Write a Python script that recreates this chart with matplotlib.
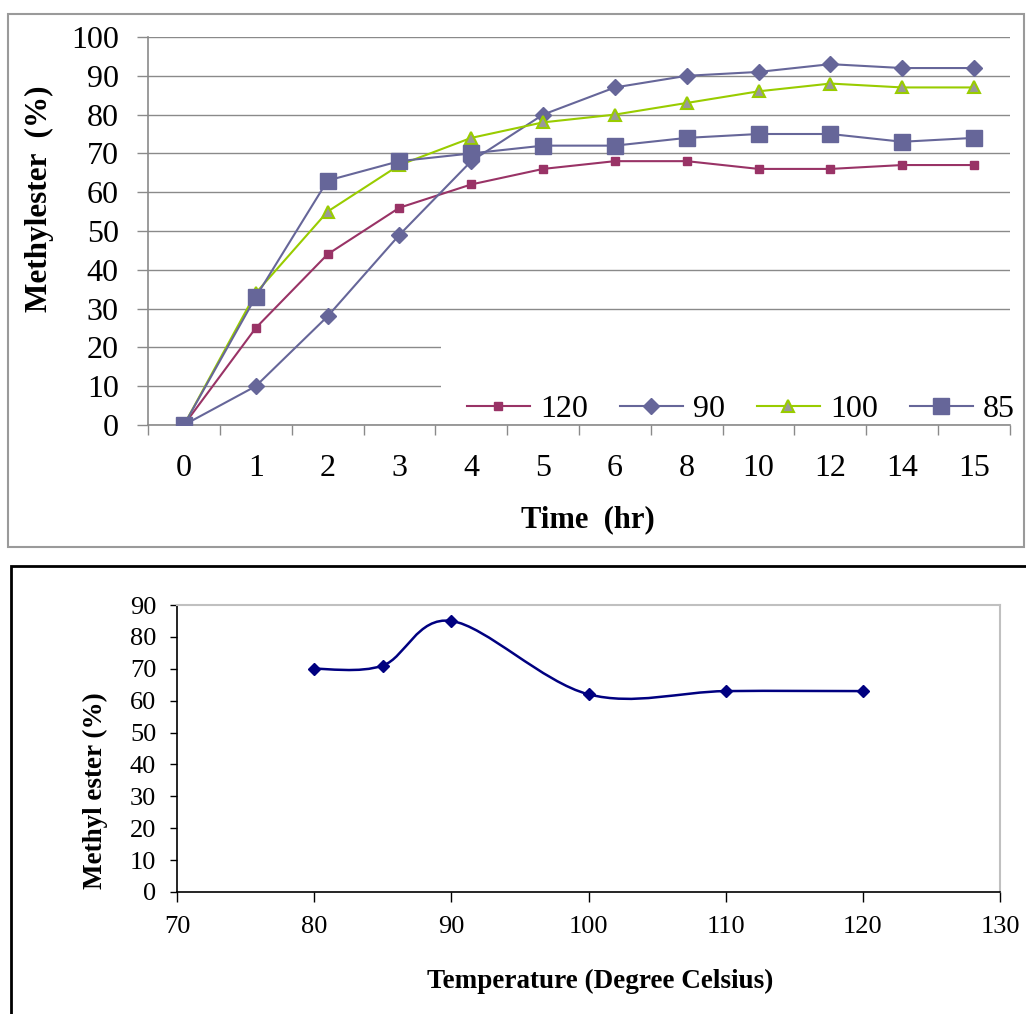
import matplotlib
matplotlib.use("Agg")
import matplotlib.pyplot as plt
from matplotlib.patches import Rectangle, PathPatch
from matplotlib.path import Path

plt.rcParams["font.family"] = ["Liberation Serif", "DejaVu Serif"]

# top chart: methyl ester vs time, one line per temperature
time_labels = ["0", "1", "2", "3", "4", "5", "6", "8", "10", "12", "14", "15"]
ester_120 = [0, 25, 44, 56, 62, 66, 68, 68, 66, 66, 67, 67]
ester_90 = [0, 10, 28, 49, 68, 80, 87, 90, 91, 93, 92, 92]
ester_100 = [0, 34, 55, 67, 74, 78, 80, 83, 86, 88, 87, 87]
ester_85 = [0, 33, 63, 68, 70, 72, 72, 74, 75, 75, 73, 74]

# bottom chart: methyl ester vs temperature
temps = [80, 85, 90, 100, 110, 120]
ester_temp = [70, 71, 85, 62, 63, 63]

W, H = 1026, 1014
fig = plt.figure(figsize=(W / 100, H / 100), dpi=100)


def fx(px):
    return px / W


def fy(py):
    return 1 - py / H


# panel frames
fig.patches.append(Rectangle((fx(8), fy(547)), fx(1024) - fx(8), fy(14) - fy(547),
                             transform=fig.transFigure, fill=False,
                             edgecolor="#9a9a9a", lw=1.5))
fig.patches.append(Rectangle((fx(11), fy(1030)), fx(1040) - fx(11), fy(566) - fy(1030),
                             transform=fig.transFigure, fill=False,
                             edgecolor="black", lw=2))

# ---- top panel ----
grid_c = "#8a8a8a"
ax = fig.add_axes([fx(148), fy(425), fx(1010) - fx(148), fy(37) - fy(425)])
x = list(range(len(time_labels)))
ax.plot(x, ester_120, color="#993366", marker="s", ms=5.5, lw=1.5, label="120", zorder=3)
ax.plot(x, ester_90, color="#666699", marker="D", ms=8.5, lw=1.5, label="90", zorder=3)
ax.plot(x, ester_100, color="#99CC00", marker="^", ms=8.5, mfc="#999999", mec="#99CC00",
        mew=1.5, lw=1.5, label="100", zorder=3)
ax.plot(x, ester_85, color="#666699", marker="s", ms=11, lw=1.5, label="85", zorder=3)

ax.set_xlim(-0.5, len(time_labels) - 0.5)
ax.set_ylim(0, 100)
ax.set_yticks(range(0, 101, 10))
ax.set_xticks(x)
ax.set_xticklabels(time_labels)
ax.set_xticks([i - 0.5 for i in range(len(time_labels) + 1)], minor=True)
ax.tick_params(axis="x", which="major", length=0, pad=21, labelsize=23)
ax.tick_params(axis="x", which="minor", length=7, width=1, color=grid_c, direction="out")
ax.tick_params(axis="y", length=8, width=1, color=grid_c, pad=13, labelsize=23)
ax.grid(axis="y", color=grid_c, lw=1)
ax.set_axisbelow(True)
for s in ["top", "right"]:
    ax.spines[s].set_visible(False)
for s in ["left", "bottom"]:
    ax.spines[s].set_color(grid_c)
    ax.spines[s].set_linewidth(1.2)

# white legend area hides the lower grid lines
ax.add_patch(Rectangle((0.34, 0.004), 0.66, 0.215, transform=ax.transAxes,
                       facecolor="white", edgecolor="none", zorder=1))
ax.legend(ncol=4, loc="center", bbox_to_anchor=(fx(741), fy(409)),
          bbox_transform=fig.transFigure, frameon=False, fontsize=23,
          handlelength=1.97, handletextpad=0.32, columnspacing=1.0,
          borderaxespad=0)

fig.text(fx(39), fy(199), "Methylester  (%)", rotation=90, ha="center", va="center",
         fontsize=22.5, fontweight="bold")
fig.text(fx(588), fy(520), "Time  (hr)", ha="center", va="center",
         fontsize=22, fontweight="bold")

# ---- bottom panel ----
ax2 = fig.add_axes([fx(177), fy(892), fx(1000) - fx(177), fy(605) - fy(892)])

# Excel-style smoothed line through the points as cubic Bezier segments
pts = list(zip(temps, ester_temp))
verts = [pts[0]]
codes = [Path.MOVETO]
for i in range(len(pts) - 1):
    p0 = pts[i - 1] if i > 0 else pts[i]
    p1 = pts[i]
    p2 = pts[i + 1]
    p3 = pts[i + 2] if i + 2 < len(pts) else pts[i + 1]
    c1 = (p1[0] + (p2[0] - p0[0]) / 6, p1[1] + (p2[1] - p0[1]) / 6)
    c2 = (p2[0] - (p3[0] - p1[0]) / 6, p2[1] - (p3[1] - p1[1]) / 6)
    verts += [c1, c2, p2]
    codes += [Path.CURVE4] * 3
ax2.add_patch(PathPatch(Path(verts, codes), facecolor="none", edgecolor="#000080", lw=1.8))
ax2.plot(temps, ester_temp, ls="none", marker="D", ms=6.5, color="#000080")

ax2.set_xlim(70, 130)
ax2.set_ylim(0, 90)
ax2.set_xticks(range(70, 131, 10))
ax2.set_yticks(range(0, 91, 10))
ax2.tick_params(axis="x", length=7, width=1, pad=10, labelsize=19)
ax2.tick_params(axis="y", length=5, width=1, pad=10, labelsize=19)
for s in ["top", "right"]:
    ax2.spines[s].set_color("#c0c0c0")
    ax2.spines[s].set_linewidth(1.5)
for s in ["left", "bottom"]:
    ax2.spines[s].set_color("black")
    ax2.spines[s].set_linewidth(1.2)

fig.text(fx(95), fy(791), "Methyl ester (%)", rotation=90, ha="center", va="center",
         fontsize=19.5, fontweight="bold")
fig.text(fx(600), fy(981), "Temperature (Degree Celsius)", ha="center", va="center",
         fontsize=19.5, fontweight="bold")

fig.savefig("out.png", dpi=100)
